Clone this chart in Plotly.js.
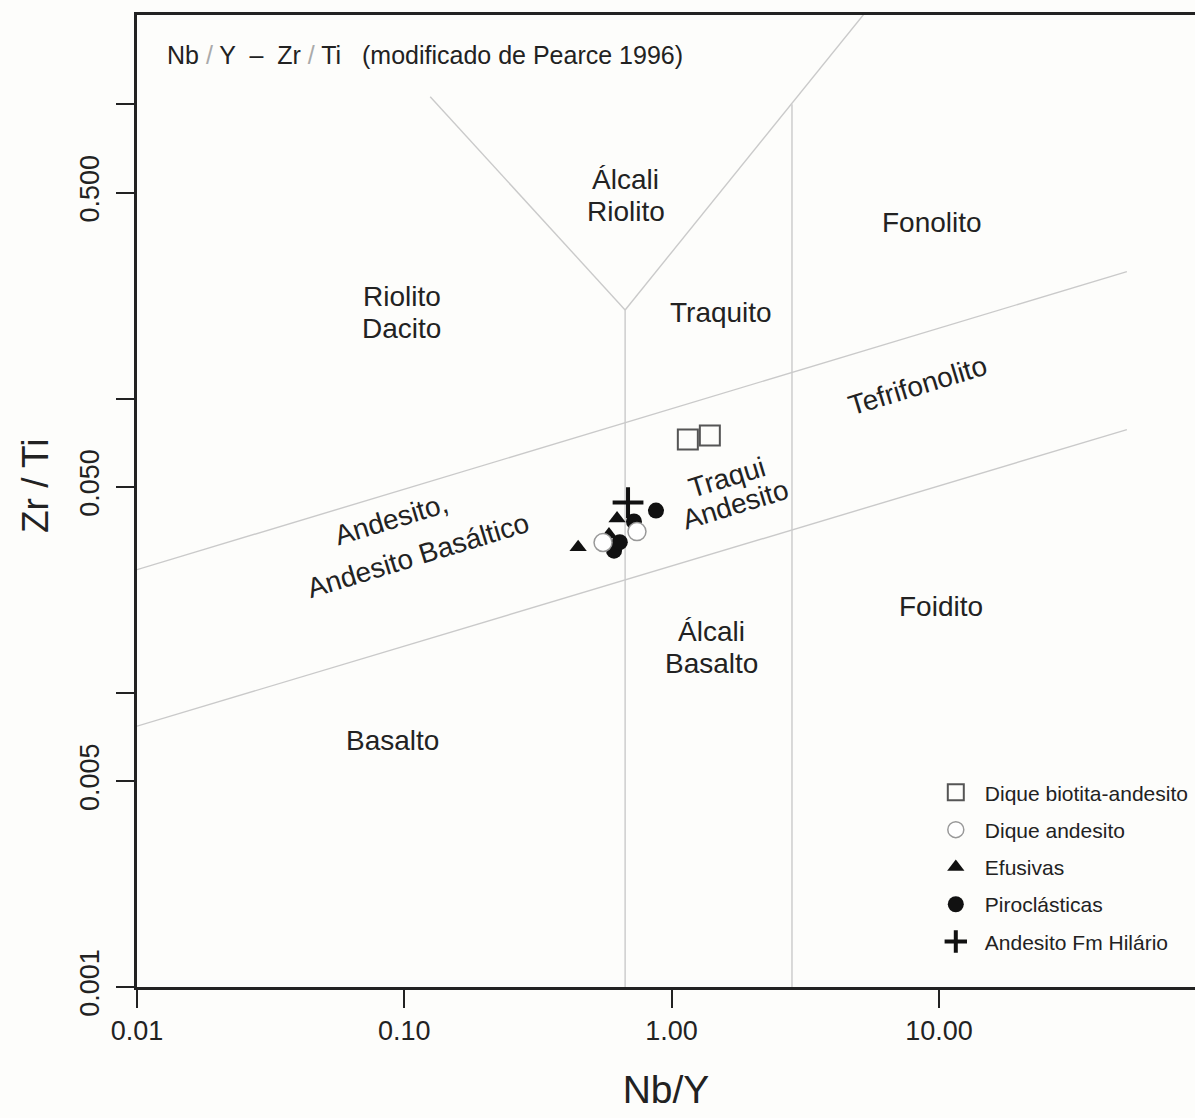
<!DOCTYPE html>
<html>
<head>
<meta charset="utf-8">
<script src="https://cdn.plot.ly/plotly-3.0.1.min.js"></script>
<style>html,body{margin:0;padding:0;background:#fdfdfb;}#chart{width:1195px;height:1118px;}</style>
</head>
<body>
<div id="chart"></div>
<script>
// ---- Data (Nb/Y, Zr/Ti) ----
const sqX = [1.15, 1.39];            // Dique biotita-andesito
const sqY = [0.0725, 0.0748];
const ocX = [0.554, 0.742];          // Dique andesito
const ocY = [0.0324, 0.0353];
const triX = [0.447, 0.625, 0.583];  // Efusivas
const triY = [0.0312, 0.0391, 0.0345];
const fcX = [0.874, 0.723, 0.609, 0.64]; // Piroclásticas
const fcY = [0.0416, 0.0382, 0.0304, 0.0325];
const crX = [0.687];                 // Andesito Fm Hilário
const crY = [0.0443];

// ---- Field boundaries (Pearce 1996) ----
const bVertAX = [0.67, 0.67];  const bVertAY = [0.2, 0.001];
const bVLeftX = [0.125, 0.67]; const bVLeftY = [1.06, 0.2];
const bVRightX = [0.67, 5.3];  const bVRightY = [0.2, 2.05];
const bVertBX = [2.82, 2.82];  const bVertBY = [1.0, 0.001];
const bUpperX = [0.01, 50.5];  const bUpperY = [0.0262, 0.27];
const bLowerX = [0.01, 50.5];  const bLowerY = [0.0077, 0.0784];

// ---- Ticks ----
const xTickVals = [0.01, 0.1, 1, 10];
const xTickText = ["0.01", "0.10", "1.00", "10.00"];
const yTickVals = [0.001, 0.005, 0.01, 0.05, 0.1, 0.5, 1];
const yTickText = ["0.001", "0.005", "", "0.050", "", "0.500", ""];

// ---- Field labels (one entry per text line) ----
const fieldText = ["Álcali", "Riolito", "Fonolito", "Riolito", "Dacito", "Traquito", "Tefrifonolito",
  "Andesito,", "Andesito Basáltico", "Traqui", "Andesito", "Álcali", "Basalto", "Foidito", "Basalto"];
const fieldX = [0.67, 0.675, 9.4, 0.098, 0.098, 1.53, 8.35, 0.0892, 0.1125, 1.61, 1.741, 1.416, 1.416, 10.2, 0.090];
const fieldY = [0.553, 0.4306, 0.398, 0.2214, 0.1724, 0.1954, 0.111, 0.0387, 0.0292, 0.0537, 0.0435, 0.0161, 0.01253, 0.0197, 0.00686];
const fieldAngle = [0, 0, 0, 0, 0, 0, -17, -17, -17, -17, -17, 0, 0, 0, 0];

const lineColor = '#cacaca';
const txt = '#222';
const FONT = 'Liberation Sans, Arial, sans-serif';

function bLine(x, y) {
  return {x: x, y: y, mode: 'lines', type: 'scatter', showlegend: false, hoverinfo: 'skip',
    line: {color: lineColor, width: 1.4}};
}

const traces = [
  bLine(bVertAX, bVertAY), bLine(bVLeftX, bVLeftY), bLine(bVRightX, bVRightY),
  bLine(bVertBX, bVertBY), bLine(bUpperX, bUpperY), bLine(bLowerX, bLowerY),
  {x: sqX, y: sqY, mode: 'markers', type: 'scatter', name: 'Dique biotita-andesito', legendrank: 1, legendgroup: 'a',
    marker: {symbol: 'square-open', size: 20, color: '#555', line: {width: 2}}},
  {x: triX, y: triY, mode: 'markers', type: 'scatter', name: 'Efusivas', legendrank: 3, legendgroup: 'c',
    marker: {symbol: 'triangle-up', size: 15, color: '#111'}},
  {x: fcX, y: fcY, mode: 'markers', type: 'scatter', name: 'Piroclásticas', legendrank: 4, legendgroup: 'd',
    marker: {symbol: 'circle', size: 16, color: '#111'}},
  {x: ocX, y: ocY, mode: 'markers', type: 'scatter', name: 'Dique andesito', legendrank: 2, legendgroup: 'b',
    marker: {symbol: 'circle', size: 18, color: '#ffffff', line: {color: '#999', width: 1.5}}},
  {x: crX, y: crY, mode: 'markers', type: 'scatter', name: 'Andesito Fm Hilário', legendrank: 5, legendgroup: 'e',
    marker: {symbol: 'cross-thin', size: 22, color: '#111', line: {color: '#111', width: 4}}}
];

const annotations = fieldText.map((t, i) => ({
  x: Math.log10(fieldX[i]), y: Math.log10(fieldY[i]), xref: 'x', yref: 'y',
  text: t, showarrow: false, textangle: fieldAngle[i], align: 'center',
  font: {family: FONT, size: 28, color: txt}
}));
annotations.push({
  xref: 'paper', yref: 'paper', x: 0.0265, y: 0.959, xanchor: 'left', yanchor: 'middle',
  showarrow: false, align: 'left',
  text: 'Nb<span style="color:#aaa"> / </span>Y  –  Zr<span style="color:#aaa"> / </span>Ti   (modificado de Pearce 1996)',
  font: {family: FONT, size: 25, color: txt}
});
// y-axis title (placed as in the reference, slightly above the axis centre)
annotations.push({
  xref: 'paper', yref: 'paper', x: -0.0964, y: 0.5154, xanchor: 'center', yanchor: 'middle',
  showarrow: false, textangle: -90, text: 'Zr / Ti',
  font: {family: FONT, size: 37, color: txt}
});

const layout = {
  width: 1195, height: 1118,
  margin: {l: 137, r: 0, t: 15, b: 131},
  paper_bgcolor: '#fdfdfb', plot_bgcolor: '#fdfdfb',
  showlegend: true,
  legend: {x: 0.7465, y: 0.221, xanchor: 'left', yanchor: 'top', bgcolor: 'rgba(0,0,0,0)',
    itemwidth: 48, font: {family: FONT, size: 21, color: txt}, tracegroupgap: 7},
  xaxis: {type: 'log', range: [-2, 1.958], tickvals: xTickVals, ticktext: xTickText,
    showgrid: false, zeroline: false, showline: true, mirror: true, linewidth: 3, linecolor: txt,
    ticks: 'outside', ticklen: 18, tickwidth: 2, tickcolor: txt, ticklabelstandoff: 0,
    tickfont: {family: FONT, size: 27, color: txt},
    title: {text: 'Nb/Y', standoff: 31, font: {family: FONT, size: 39, color: txt}}},
  yaxis: {type: 'log', range: [-3, 0.3034], tickvals: yTickVals, ticktext: yTickText,
    showgrid: false, zeroline: false, showline: true, linewidth: 3, linecolor: txt,
    ticks: 'outside', ticklen: 18, tickwidth: 2, tickcolor: txt, tickangle: -90, ticklabelstandoff: 6,
    tickfont: {family: FONT, size: 27, color: txt}},
  annotations: annotations
};

Plotly.newPlot('chart', traces, layout, {displayModeBar: false, staticPlot: true});
</script>
</body>
</html>
